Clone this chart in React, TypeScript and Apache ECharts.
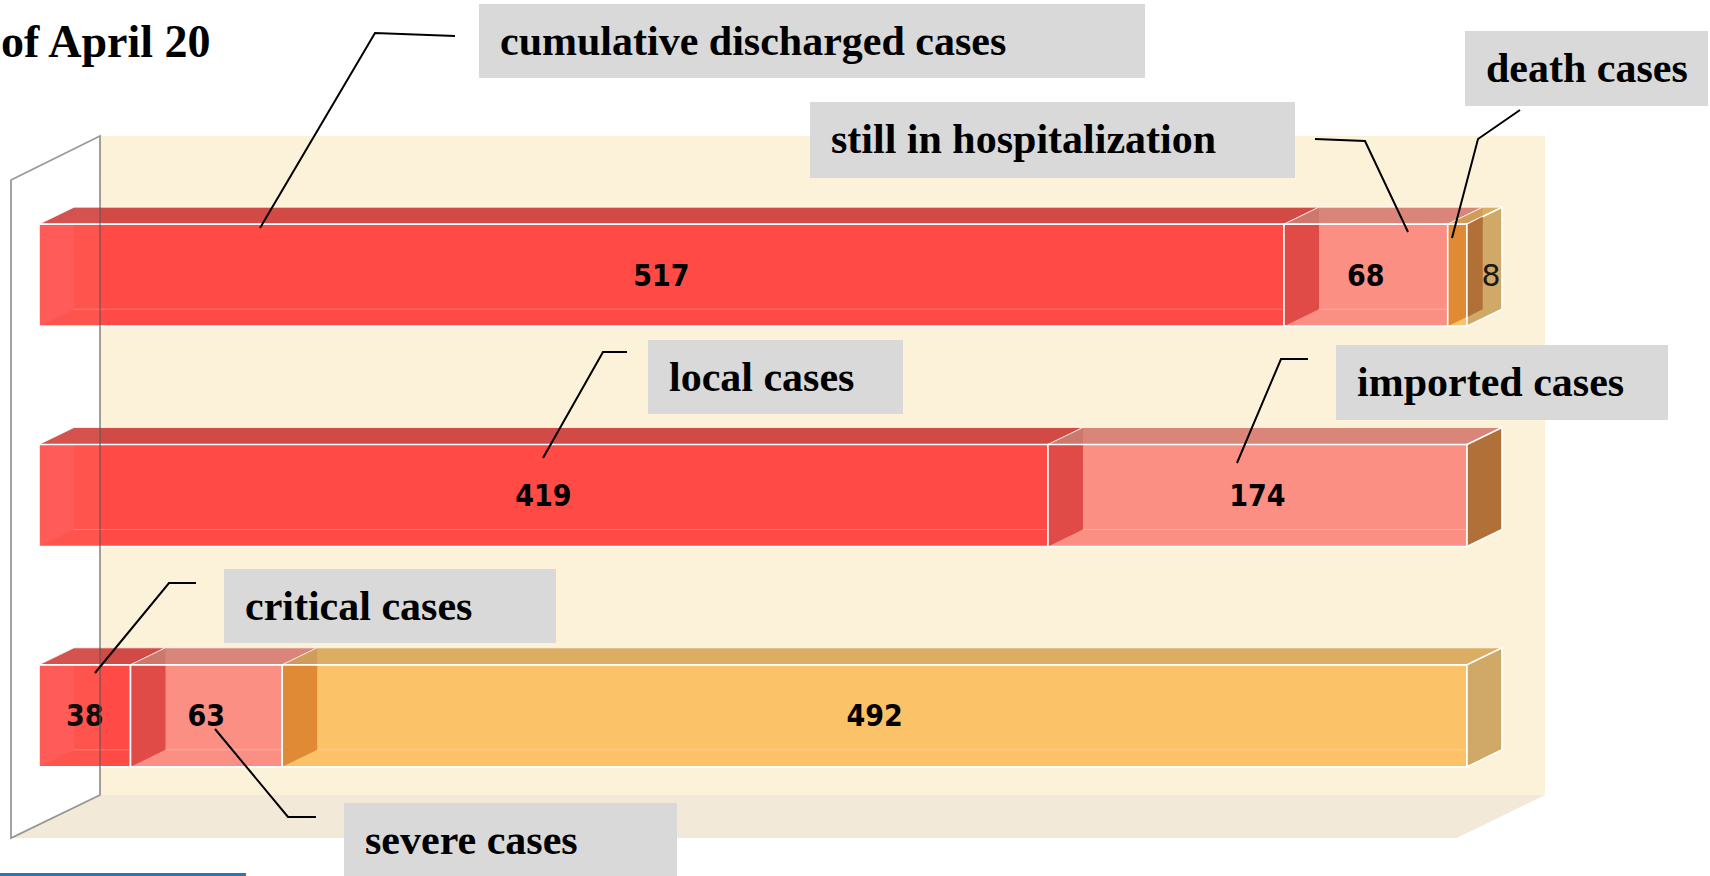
import React, { useEffect, useRef } from 'react';
import * as echarts from 'echarts';

// ---- data ----
const categories = ['Outcome', 'Origin', 'Severity'];
const redValues = [517, 419, 38]; // discharged / local / critical
const pinkValues = [68, 174, 63]; // still in hospitalization / imported / severe
const orangeValues = [8, 0, 492]; // death / - / other
const seriesNames = ['discharged / local / critical', 'hospitalized / imported / severe', 'death / other'];
const calloutTexts = [
  'cumulative discharged cases',
  'still in hospitalization',
  'death cases',
  'local cases',
  'imported cases',
  'critical cases',
  'severe cases',
];
const titleText = 'of April 20';

// ---- styles ----
const palette = [
  { front: '#FF4A45', top: '#D24A45', left: '#FF5451', right: '#C84040' },
  { front: '#FC8F84', top: '#D9857A', left: '#E04B48', right: '#B07038' },
  { front: '#FBC268', top: '#DCAE64', left: '#E08A35', right: '#D0A868' },
];
const overlapColor = '#B07038';
const depthX = 35;
const depthY = 17;
const serif = "'Liberation Serif', 'Times New Roman', serif";
const labelFont = "'DejaVu Sans Condensed', 'DejaVu Sans', sans-serif";

// layout of annotation boxes [x, y, w, h] and leader lines
const calloutBoxes = [
  [479, 4, 666, 74],
  [810, 102, 485, 76],
  [1465, 31, 243, 75],
  [648, 340, 255, 74],
  [1336, 345, 332, 75],
  [224, 569, 332, 74],
  [344, 803, 333, 77],
];
const leaders = [
  [[260, 228], [375, 33], [455, 36]],
  [[1408, 232], [1365, 141], [1315, 139]],
  [[1452, 238], [1478, 139], [1520, 110]],
  [[543, 458], [603, 352], [627, 352]],
  [[1237, 463], [1281, 359], [1308, 359]],
  [[95, 673], [169, 583], [196, 583]],
  [[215, 729], [288, 817], [316, 817]],
];

const stacks = [redValues, pinkValues, orangeValues];

function buildSeriesData(s: number) {
  const out: number[][] = [];
  stacks[s].forEach((v, r) => {
    if (v <= 0) return;
    let start = 0;
    for (let i = 0; i < s; i++) start += stacks[i][r];
    let isFirst = 1;
    for (let i = 0; i < s; i++) if (stacks[i][r] > 0) isFirst = 0;
    let isLast = 1;
    for (let i = s + 1; i < stacks.length; i++) if (stacks[i][r] > 0) isLast = 0;
    out.push([start, start + v, r, v, isFirst, isLast]);
  });
  return out;
}

const totals = categories.map((_, r) => stacks.reduce((a, arr) => a + arr[r], 0));
const axisMax = Math.max(...totals);

const renderItem = (params: any, api: any) => {
  const c = palette[params.seriesIndex];
  const start = api.value(0);
  const end = api.value(1);
  const row = api.value(2);
  const val = api.value(3);
  const isFirst = api.value(4) === 1;
  const isLast = api.value(5) === 1;
  const p0 = api.coord([start, row]);
  const p1 = api.coord([end, row]);
  const band = api.size([0, 1])[1];
  const h = band * 0.463;
  const x0 = p0[0];
  const x1 = p1[0];
  const yT = p0[1] - h / 2;
  const yB = yT + h;
  const dx = depthX;
  const dy = depthY;
  const k = dy / dx;
  const children: any[] = [];
  // top face
  children.push({
    type: 'polygon',
    shape: { points: [[x0, yT], [x0 + dx, yT - dy], [x1 + dx, yT - dy], [x1, yT]] },
    style: { fill: c.top, stroke: 'rgba(255,255,255,0.75)', lineWidth: 1 },
  });
  // front face
  children.push({
    type: 'rect',
    shape: { x: x0, y: yT, width: x1 - x0, height: h },
    style: { fill: c.front },
  });
  // bottom back edge seen through
  children.push({
    type: 'line',
    shape: { x1: x0 + 1, y1: yB - dy, x2: x1 - 1, y2: yB - dy },
    style: { stroke: 'rgba(255,255,255,0.28)', lineWidth: 1 },
  });
  // left inner face
  const xr = Math.min(x0 + dx, x1);
  children.push({
    type: 'polygon',
    shape: { points: [[x0, yT], [xr, yT], [xr, yB - (xr - x0) * k], [x0, yB]] },
    style: { fill: c.left },
  });
  if (!isFirst) {
    children.push({
      type: 'polygon',
      shape: { points: [[x0, yT], [x0 + dx, yT - dy], [x0 + dx, yT]] },
      style: { fill: 'rgba(120,30,20,0.12)' },
    });
  }
  // front outline
  children.push({
    type: 'rect',
    shape: { x: x0, y: yT, width: x1 - x0, height: h },
    style: { fill: 'none', stroke: '#FFFFFF', lineWidth: 1.6 },
  });
  if (isLast) {
    children.push({
      type: 'polygon',
      shape: { points: [[x1, yT], [x1 + dx, yT - dy], [x1 + dx, yB - dy], [x1, yB]] },
      style: { fill: c.right, stroke: '#FFFFFF', lineWidth: 1.6 },
    });
    if (!isFirst && x0 + dx > x1) {
      children.push({
        type: 'polygon',
        shape: {
          points: [
            [x1 + 0.8, yT],
            [x0 + dx, yT - (x0 + dx - x1) * k],
            [x0 + dx, yB - dy],
            [x1 + 0.8, yB - (x1 - x0) * k],
          ],
        },
        style: { fill: overlapColor },
      });
    }
  }
  const w = x1 - x0;
  if (w > 40) {
    children.push({
      type: 'text',
      style: {
        text: String(val),
        x: (x0 + x1) / 2,
        y: (yT + yB) / 2,
        align: 'center',
        verticalAlign: 'middle',
        fontFamily: labelFont,
        fontWeight: 'bold',
        fontSize: 30,
        fill: '#000000',
      },
    });
  } else {
    children.push({
      type: 'text',
      style: {
        text: String(val),
        x: x1 + dx * 0.69,
        y: (yT + yB) / 2,
        align: 'center',
        verticalAlign: 'middle',
        fontFamily: "'DejaVu Sans', sans-serif",
        fontWeight: 'normal',
        fontSize: 30,
        fill: '#1A1A1A',
      },
    });
  }
  return { type: 'group', children };
};

function buildGraphics() {
  const g: any[] = [];
  // back wall
  g.push({ type: 'rect', z: 0, shape: { x: 100, y: 136, width: 1445, height: 659 }, style: { fill: '#FCF2D9' } });
  // floor
  g.push({
    type: 'polygon',
    z: 0,
    shape: { points: [[100, 795], [1545, 795], [1457, 838], [11, 838]] },
    style: { fill: '#F2E9D8' },
  });
  // left wall (over bars)
  g.push({
    type: 'polygon',
    z: 100,
    shape: { points: [[100, 136], [11, 180], [11, 838], [100, 795]] },
    style: { fill: 'rgba(255,255,255,0.05)', stroke: 'rgba(90,90,90,0.62)', lineWidth: 1.8 },
  });
  // bottom blue strip
  g.push({ type: 'rect', z: 100, shape: { x: 0, y: 873, width: 246, height: 3 }, style: { fill: '#2A78AE' } });
  // leader lines
  leaders.forEach((pts) => {
    g.push({
      type: 'polyline',
      z: 110,
      shape: { points: pts },
      style: { stroke: '#000000', lineWidth: 2, fill: 'none' },
    });
  });
  // callout boxes
  calloutBoxes.forEach((b, i) => {
    g.push({ type: 'rect', z: 120, shape: { x: b[0], y: b[1], width: b[2], height: b[3] }, style: { fill: '#D9D9D9' } });
    g.push({
      type: 'text',
      z: 121,
      style: {
        text: calloutTexts[i],
        x: b[0] + 21,
        y: b[1] + 37,
        align: 'left',
        verticalAlign: 'middle',
        fontFamily: serif,
        fontWeight: 'bold',
        fontSize: 42,
        fill: '#000000',
      },
    });
  });
  // title
  g.push({
    type: 'text',
    z: 121,
    style: {
      text: titleText,
      x: 1,
      y: 41,
      align: 'left',
      verticalAlign: 'middle',
      fontFamily: serif,
      fontWeight: 'bold',
      fontSize: 46,
      fill: '#000000',
    },
  });
  return g;
}

export default function App() {
  const ref = useRef<HTMLDivElement>(null);
  useEffect(() => {
    if (!ref.current) return;
    const chart = echarts.init(ref.current, null, { renderer: 'svg' });
    chart.setOption({
      animation: false,
      backgroundColor: '#FFFFFF',
      grid: { left: 39, right: 243, top: 165, height: 661 },
      xAxis: {
        type: 'value',
        min: 0,
        max: axisMax,
        show: false,
        splitLine: { show: false },
      },
      yAxis: {
        type: 'category',
        data: categories,
        inverse: true,
        show: false,
      },
      graphic: buildGraphics(),
      series: [0, 1, 2].map((s) => ({
        type: 'custom',
        name: seriesNames[s],
        renderItem,
        clip: false,
        z: 10,
        encode: { x: [0, 1], y: 2 },
        data: buildSeriesData(s),
      })),
    });
    return () => chart.dispose();
  }, []);
  return <div ref={ref} style={{ position: 'fixed', left: 0, top: 0, width: 1710, height: 876 }} />;
}
